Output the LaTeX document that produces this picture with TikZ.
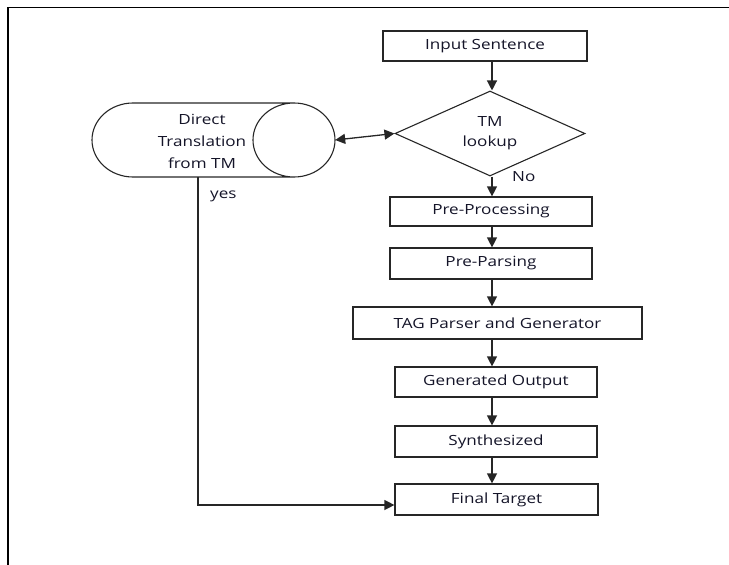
\documentclass[tikz,border=0pt]{standalone}
\usepackage{fontspec}
\setmainfont{Open Sans}[FakeStretch=1.22]
\usetikzlibrary{shapes.geometric,arrows.meta,calc}
\definecolor{ln}{HTML}{262626}
\definecolor{tx}{HTML}{141428}
\begin{document}
\begin{tikzpicture}[x=1pt,y=-1pt,
  font=\fontsize{14}{17}\selectfont,
  box/.style={draw=ln,line width=1.2pt,rectangle,inner sep=0pt,text=tx},
  dec/.style={draw=ln,line width=1.1pt,diamond,aspect=2.235,inner sep=0pt,minimum width=190pt,minimum height=85pt,text=tx,align=center,font=\fontsize{14}{20}\selectfont},
  tip/.tip={Triangle[length=10pt,width=10pt]},
  arr/.style={draw=ln,line width=1.3pt,-tip},
  lbl/.style={text=tx,inner sep=0pt}]
\useasboundingbox (0,0) rectangle (729,565);
% frame
\draw[line width=1.8pt,black] (8,565) -- (8,7.5) -- (729,7.5);
% nodes
\node[box,minimum width=204pt,minimum height=30pt] (inp) at (485,46) {Input Sentence};
\node[dec] (tm) at (490,133.5) {TM\\lookup};
\node[box,minimum width=202pt,minimum height=29pt] (pre) at (491,211.5) {Pre-Processing};
\node[box,minimum width=202pt,minimum height=31pt] (pars) at (491,263.5) {Pre-Parsing};
\node[box,minimum width=289pt,minimum height=32pt] (tag) at (497.5,323) {TAG Parser and Generator};
\node[box,minimum width=202pt,minimum height=30pt] (gen) at (496,382) {Generated Output};
\node[box,minimum width=202pt,minimum height=31pt] (syn) at (496,441.5) {Synthesized};
\node[box,minimum width=203pt,minimum height=31pt] (fin) at (496.5,499.5) {Final Target};
% cylinder
\node[minimum width=243pt,minimum height=74pt,inner sep=0pt] (cyl) at (213.5,140) {};
\draw[ln,line width=1.1pt] (133,103) -- (294,103)
  (133,103) arc[start angle=90,end angle=270,x radius=41pt,y radius=37pt] -- (294,177)
  (294,140) ellipse[x radius=41pt,y radius=37pt];
\node[lbl,align=center,font=\fontsize{14}{22}\selectfont] (cyltext) at (202,141) {Direct\\Translation\\from TM};
% connectors
\coordinate (col) at (492,0);
\coordinate (yx) at (198,0);
\draw[arr] (inp.south -| col) -- (tm.north -| col);
\draw[draw=ln,line width=1.3pt,tip-tip] (cyl.east) -- (tm.west);
\draw[arr] (tm.south -| col) -- (pre.north -| col);
\draw[arr] (pre.south -| col) -- (pars.north -| col);
\draw[arr] (pars.south -| col) -- (tag.north -| col);
\draw[arr] (tag.south -| col) -- (gen.north -| col);
\draw[arr] (gen.south -| col) -- (syn.north -| col);
\draw[arr] (syn.south -| col) -- (fin.north -| col);
\draw[arr] (cyl.south -| yx) -- (yx |- 0,505) -- (fin.west |- 0,505);
% labels
\node[lbl,anchor=west] (no) at (512,177) {No};
\node[lbl,anchor=west] (yes) at (210,196) {yes};
\end{tikzpicture}
\end{document}
